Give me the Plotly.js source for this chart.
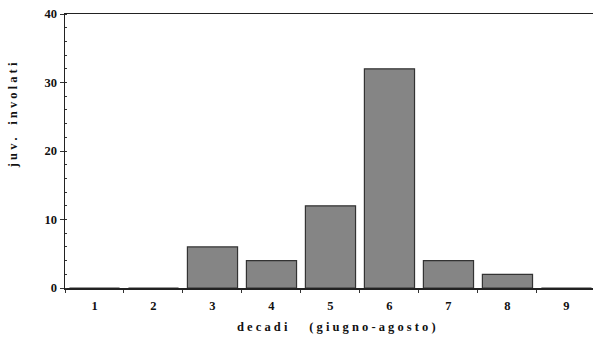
<!DOCTYPE html>
<html><head><meta charset="utf-8">
<script src="https://cdn.plot.ly/plotly-3.0.1.min.js"></script>
<style>html,body{margin:0;padding:0;background:#fff;}#c{width:593px;height:341px;}</style>
</head><body><div id="c"></div>
<script>
const categories = ['1','2','3','4','5','6','7','8','9'];
const values = [0, 0, 6, 4, 12, 32, 4, 2, 0];
const yTicks = [0, 10, 20, 30, 40];
const xTitle = 'd e c a d i       ( g i u g n o - a g o s t o )';
const yTitle = 'j u v .    i n v o l a t i';

const font = {family: '"Liberation Serif", "DejaVu Serif", serif', color: '#111'};

Plotly.newPlot('c', [{
  type: 'bar', x: categories, y: values,
  marker: {color: '#858585', line: {color: '#333', width: 1.2}},
  hoverinfo: 'skip'
}], {
  width: 593, height: 341,
  margin: {l: 65, r: 0, t: 14, b: 53},
  paper_bgcolor: '#fff', plot_bgcolor: '#fff',
  showlegend: false, bargap: 0.15,
  font: Object.assign({size: 12}, font),
  xaxis: {
    type: 'category', range: [-0.5, 8.45],
    showgrid: false, zeroline: false,
    showline: true, linecolor: '#222', linewidth: 1.5, mirror: true,
    ticks: 'outside', tickson: 'boundaries', ticklen: 3, tickcolor: '#333',
    ticklabelstandoff: 5,
    tickfont: Object.assign({size: 12.5, weight: 'bold'}, font)
  },
  yaxis: {
    range: [0, 40], tickvals: yTicks, ticktext: yTicks.map(String),
    showgrid: false, zeroline: false,
    showline: true, linecolor: '#222', linewidth: 1.5,
    ticks: 'outside', ticklen: 4, tickcolor: '#333',
    minor: {dtick: 2, ticks: 'inside', ticklen: 2, tickcolor: '#333', showgrid: false},
    tickfont: Object.assign({size: 12.5, weight: 'bold'}, font)
  },
  annotations: [{
    text: yTitle, xref: 'paper', yref: 'paper', x: -0.097, y: 0.63,
    xanchor: 'center', yanchor: 'middle', textangle: -90, showarrow: false,
    font: Object.assign({size: 12.5, weight: 'bold'}, font)
  }, {
    text: xTitle, xref: 'paper', yref: 'paper', x: 0.515, y: -0.142,
    xanchor: 'center', yanchor: 'middle', showarrow: false,
    font: Object.assign({size: 12.5, weight: 'bold'}, font)
  }]
}, {displayModeBar: false, staticPlot: true});
</script></body></html>
